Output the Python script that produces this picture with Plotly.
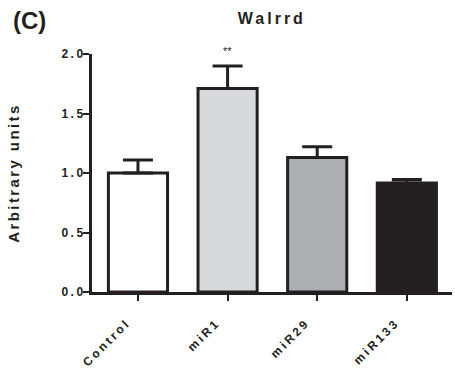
import plotly.graph_objects as go

categories = ["Control", "miR1", "miR29", "miR133"]
values = [1.0, 1.71, 1.13, 0.915]
errors = [0.11, 0.19, 0.09, 0.03]
bar_colors = ["#ffffff", "#d8d9db", "#adaeb1", "#231f20"]
y_ticks = [0.0, 0.5, 1.0, 1.5, 2.0]
y_tick_labels = ["0.0", "0.5", "1.0", "1.5", "2.0"]

INK = "#231f20"
FONT = "Liberation Sans, Arial, Helvetica, sans-serif"

fig = go.Figure()
fig.add_trace(go.Bar(
    x=categories,
    y=values,
    width=0.66,
    marker=dict(color=bar_colors, line=dict(color=INK, width=3)),
    error_y=dict(type="data", symmetric=False, array=errors,
                 arrayminus=[0] * len(errors),
                 color=INK, thickness=3, width=15),
    showlegend=False,
))

fig.update_layout(
    width=455, height=369,
    margin=dict(l=92, r=3, t=54, b=77),
    plot_bgcolor="white", paper_bgcolor="white",
    font=dict(family=FONT, color=INK),
    title=dict(text="Walrrd", x=0.5975, xanchor="center", y=1 - 18.7 / 369,
               yanchor="middle", font=dict(size=16, weight="bold", color=INK)),
    xaxis=dict(range=[-0.513, 3.504], showline=True, linecolor=INK, linewidth=3,
               ticks="outside", ticklen=6, tickwidth=2, tickcolor=INK,
               tickangle=-45, tickfont=dict(size=12, weight="bold", color=INK),
               ticklabelstandoff=10, ticklabelshift=-11,
               showgrid=False, zeroline=False),
    yaxis=dict(range=[0, 2.0], showline=True, linecolor=INK, linewidth=3,
               ticks="outside", ticklen=6, tickwidth=2, tickcolor=INK,
               tickvals=y_ticks, ticktext=y_tick_labels,
               tickfont=dict(size=12, weight="bold", color=INK),
               ticklabelstandoff=-5,
               title=dict(text="Arbitrary units", standoff=46,
                          font=dict(size=15, weight="bold", color=INK)),
               showgrid=False, zeroline=False),
    annotations=[
        dict(text="(C)", xref="paper", yref="paper", x=-0.225, y=(292 - 20.5) / 238,
             xanchor="left", yanchor="middle", showarrow=False,
             font=dict(size=24, weight="bold", color=INK, family=FONT)),
        dict(text="**", xref="x", yref="paper", x="miR1", y=(292 - 51) / 238,
             xanchor="center", yanchor="middle", showarrow=False,
             font=dict(size=11, color=INK, family=FONT)),
    ],
)

js = """
var s = document.createElement('style');
s.innerHTML = 'html, body {margin:0; padding:0;} .xtick text {letter-spacing:2.7px;} .ytick text {letter-spacing:2.5px;} .gtitle {letter-spacing:3px;} .ytitle {letter-spacing:2.4px;}';
document.head.appendChild(s);
"""
fig.write_html("out.html", post_script=js, config={"displayModeBar": False})
